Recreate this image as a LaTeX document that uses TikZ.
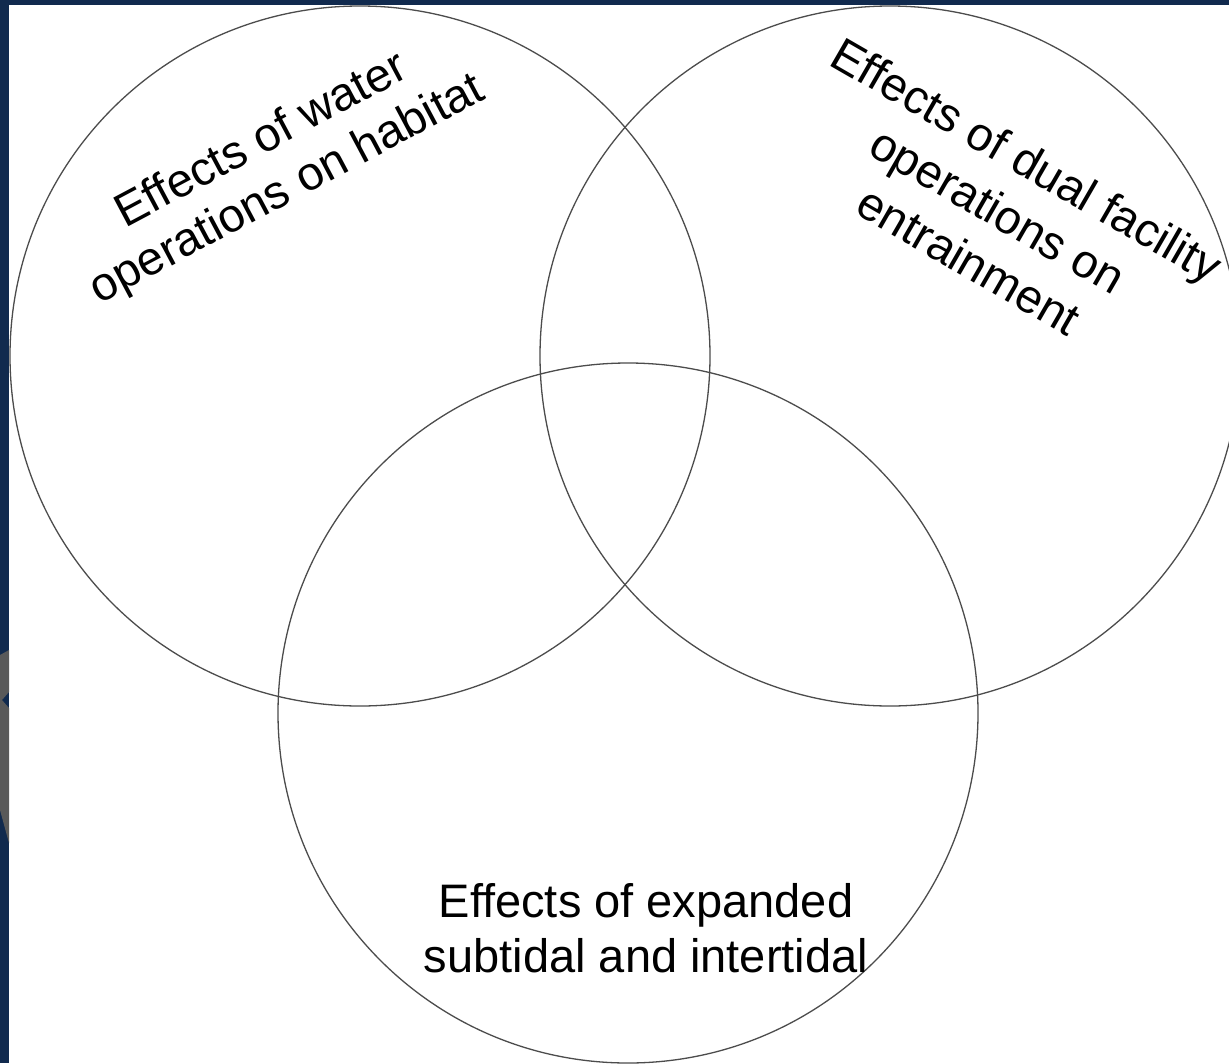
\documentclass[tikz,border=0pt]{standalone}
\usepackage{fontspec}
\setmainfont{Liberation Sans}
\usetikzlibrary{shapes.geometric}
\definecolor{navy}{RGB}{17,42,78}
\definecolor{logogrey}{RGB}{89,89,89}
\tikzstyle{vennset} = [circle, draw=black!70, line width=1.3pt,
    minimum size=700pt, inner sep=0pt]
\tikzstyle{setlabel} = [align=center, inner sep=0pt,
    font=\fontsize{47}{55}\selectfont]

\begin{document}
\begin{tikzpicture}[x=1pt, y=-1pt]
                \clip (0,0) rectangle (1229,1063);
                \fill [white] (0,0) rectangle (1229,1063);
                \fill [navy] (0,0) rectangle (1229,5);
                \fill [navy] (0,0) rectangle (9,1063);
                \fill [logogrey] (0,655) -- (9,650) -- (9,692) -- (2,700) -- (9,708) -- (9,843) -- (0,810) -- cycle;
                \node [vennset] at (360,356) (water) {};
                \node [vennset] at (890,356) (dual) {};
                \node [vennset] at (628,713) (tidal) {};
                \node [setlabel, rotate=28] at (275,166) (waterlbl) {Effects of water\\operations on habitat};
                \node [setlabel, rotate=-30, font=\fontsize{47}{58}\selectfont] at (998,210) (duallbl) {Effects of dual facility\\operations on\\entrainment};
                \node [setlabel] at (646,928) (tidallbl) {Effects of expanded\\subtidal and intertidal};
            \end{tikzpicture}
\end{document}
